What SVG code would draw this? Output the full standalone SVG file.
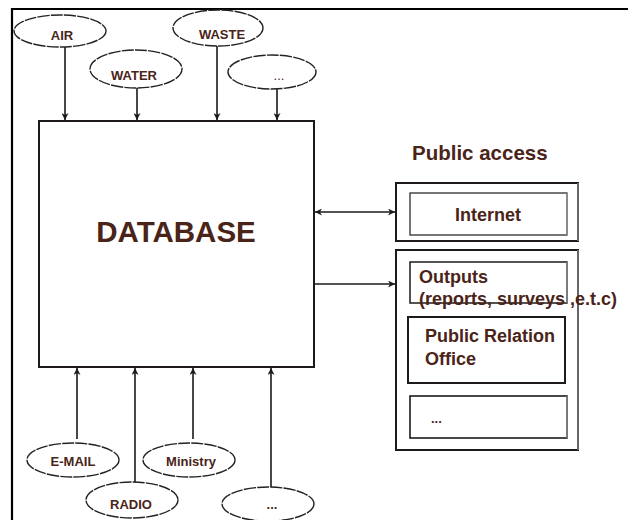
<svg xmlns="http://www.w3.org/2000/svg" width="629" height="520" viewBox="0 0 629 520">
<defs>
<style>
.t{font-family:"Liberation Sans",Arial,sans-serif;font-weight:bold;fill:#4a2418}
.e{fill:#fff;stroke:#222;stroke-width:1.4;stroke-dasharray:12 1.2}
.c{stroke:#1a1a1a;stroke-width:1.6;fill:none}
.b{fill:#fff;stroke:#1e1a1a}
.g{stroke:#999;stroke-width:1.2}
</style>
<marker id="ah" viewBox="0 0 10 10" refX="10" refY="5" markerWidth="7" markerHeight="7" orient="auto-start-reverse" markerUnits="userSpaceOnUse">
<path d="M0,0 L10,5 L0,10 L3,5 Z" fill="#1a1a1a"/>
</marker>
</defs>
<rect width="629" height="520" fill="#fff"/>
<g id="frame">
<line x1="12" y1="9" x2="628" y2="9" stroke="#000" stroke-width="2.2"/>
<line x1="12" y1="8" x2="12" y2="520" stroke="#000" stroke-width="2.2"/>
</g>
<g id="connectors">
<line class="c" x1="65" y1="47" x2="65" y2="120" marker-end="url(#ah)"/>
<line class="c" x1="137" y1="88" x2="137" y2="120" marker-end="url(#ah)"/>
<line class="c" x1="217" y1="45" x2="217" y2="120" marker-end="url(#ah)"/>
<line class="c" x1="277" y1="89" x2="277" y2="120" marker-end="url(#ah)"/>
<line class="c" x1="77" y1="439" x2="77" y2="368" marker-end="url(#ah)"/>
<line class="c" x1="135" y1="482" x2="135" y2="368" marker-end="url(#ah)"/>
<line class="c" x1="193" y1="439" x2="193" y2="368" marker-end="url(#ah)"/>
<line class="c" x1="271" y1="488" x2="271" y2="368" marker-end="url(#ah)"/>
<line class="c" x1="315" y1="212" x2="395" y2="212" marker-start="url(#ah)" marker-end="url(#ah)"/>
<line class="c" x1="315" y1="284" x2="395" y2="284" marker-end="url(#ah)"/>
</g>
<g id="database">
<rect class="b" x="39" y="121" width="275" height="246" stroke-width="2"/>
<text class="t" x="176" y="242" font-size="29.5" text-anchor="middle">DATABASE</text>
</g>
<g id="air"><ellipse class="e" cx="60" cy="31" rx="46" ry="16"/><text class="t" x="62" y="40" font-size="13" text-anchor="middle">AIR</text></g>
<g id="water"><ellipse class="e" cx="136" cy="69" rx="46" ry="19"/><text class="t" x="134" y="80" font-size="13" text-anchor="middle">WATER</text></g>
<g id="waste"><ellipse class="e" cx="218" cy="28" rx="45" ry="18"/><text class="t" x="222" y="39" font-size="13" text-anchor="middle">WASTE</text></g>
<g id="more-top"><ellipse class="e" cx="272" cy="72" rx="44" ry="17"/><text class="t" x="279" y="80" font-size="13" text-anchor="middle" style="font-weight:normal">...</text></g>
<g id="email"><ellipse class="e" cx="73" cy="460" rx="46" ry="17"/><text class="t" x="73" y="466" font-size="13" text-anchor="middle">E-MAIL</text></g>
<g id="ministry"><ellipse class="e" cx="189" cy="460" rx="46" ry="17"/><text class="t" x="191" y="466" font-size="13" text-anchor="middle">Ministry</text></g>
<g id="radio"><ellipse class="e" cx="132" cy="500" rx="46" ry="18"/><text class="t" x="131" y="509" font-size="13" text-anchor="middle">RADIO</text></g>
<g id="more-bottom"><ellipse class="e" cx="268" cy="504" rx="46" ry="17"/><text class="t" x="272" y="509" font-size="13" text-anchor="middle">...</text></g>
<g id="public-access"><text class="t" x="412" y="160" font-size="20.5">Public access</text></g>
<g id="internet-group">
<rect class="b" x="396" y="183" width="182" height="58" stroke-width="2"/>
<line class="g" x1="578" y1="183" x2="578" y2="241"/>
<rect class="b" x="410" y="193" width="157" height="42" stroke-width="1.2"/>
<line class="g" x1="567" y1="193" x2="567" y2="235"/>
<text class="t" x="488" y="221" font-size="18" text-anchor="middle">Internet</text>
</g>
<g id="outputs-group">
<rect class="b" x="396" y="250" width="182" height="200" stroke-width="2"/>
<line class="g" x1="578" y1="250" x2="578" y2="450"/>
</g>
<g id="outputs">
<rect class="b" x="410" y="262" width="157" height="41" stroke-width="1.5"/>
<line class="g" x1="567" y1="262" x2="567" y2="303"/>
<text class="t" x="419" y="283" font-size="18">Outputs</text>
<text class="t" x="419" y="305" font-size="18">(reports, surveys ,e.t.c)</text>
</g>
<g id="pro">
<rect class="b" x="408" y="317" width="157" height="66" stroke-width="2"/>
<text class="t" x="425" y="342" font-size="18">Public Relation</text>
<text class="t" x="425" y="365" font-size="18">Office</text>
</g>
<g id="more-right">
<rect class="b" x="410" y="396" width="157" height="42" stroke-width="1.6"/>
<line class="g" x1="567" y1="396" x2="567" y2="438"/>
<text class="t" x="431" y="423" font-size="13">...</text>
</g>
</svg>
